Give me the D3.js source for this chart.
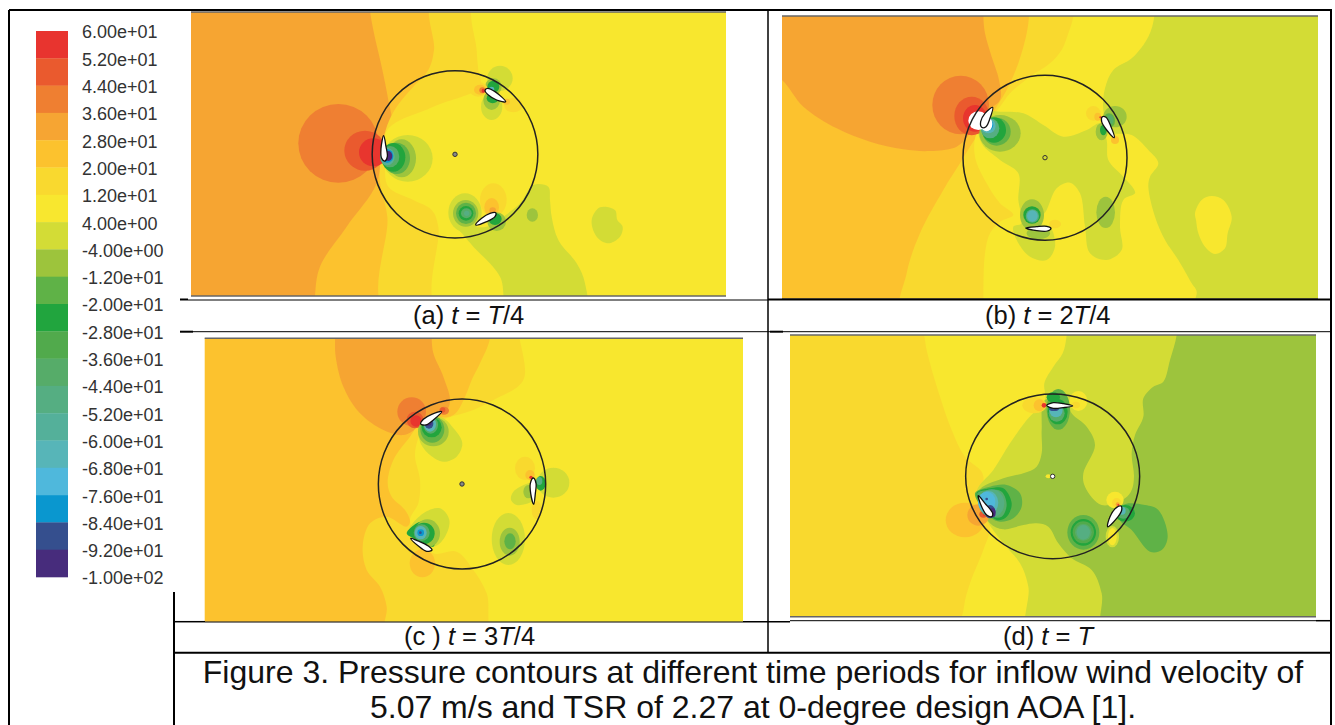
<!DOCTYPE html>
<html>
<head>
<meta charset="utf-8">
<script src="https://d3js.org/d3.v7.min.js"></script>
<style>
html,body{margin:0;padding:0;background:#fff;}
svg{display:block;font-family:"Liberation Sans",Arial,sans-serif;}
.tick{font-size:18px;fill:#333;}
.sub{font-size:25.5px;fill:#111;}
.cap{font-size:32px;fill:#111;text-anchor:middle;}
</style>
</head>
<body>
<script>
// contour bands, top of the colour bar first
var levelLabels=["6.00e+01","5.20e+01","4.40e+01","3.60e+01","2.80e+01","2.00e+01","1.20e+01","4.00e+00","-4.00e+00","-1.20e+01","-2.00e+01","-2.80e+01","-3.60e+01","-4.40e+01","-5.20e+01","-6.00e+01","-6.80e+01","-7.60e+01","-8.40e+01","-9.20e+01","-1.00e+02"];
var levelColors=["#e8342f","#ea5a2e","#ef7f31","#f6a533","#fcc22e","#f9d92f","#f8e72f","#d3dc36","#9dc43c","#5fb247","#21a53e","#51aa4c","#56ac69","#55ae82","#54b09a","#57b5b8","#4fb8dc","#0a97cf","#354f8e","#472c7c"];

// regions: [band, outline in crop grid units], painted in order
var regionsA=[
 [4,[[210,-160],[210,-120],[220,-60],[245,50],[265,150],[275,220],[250,270],[230,400],[140,530],[60,650],[45,738],[45,800],[1400,800],[1400,-160]]],
 [5,[[402,-160],[402,0],[385,60],[340,110],[290,170],[262,225],[245,300],[240,395],[262,500],[262,800],[1400,800],[1400,-160]]],
 [6,[[530,-160],[530,0],[535,60],[540,110],[400,170],[262,240],[255,340],[265,410],[340,450],[395,480],[415,530],[420,800],[1400,800],[1400,-160]]],
 [7,[[470,530],[490,555],[520,590],[600,680],[630,800],[855,800],[855,700],[830,640],[775,570],[755,500],[750,450],[745,410],[700,405],[660,460],[610,500],[560,530]]],
 [7,[[900,472],[945,480],[952,510],[968,530],[960,560],[925,580],[890,560],[875,510]]]
];
var blobsA=[
 [2,115,280,120,118],[1,195,302,62,60],[0,220,307,43,42],
 [7,323,325,75,70],[8,305,325,43,57],[9,290,325,40,47],[10,280,322,36,43],[12,270,320,28,32],[14,262,320,22,26],[17,262,318,18,20],[19,265,318,12,15],
 [7,600,85,38,38],[7,575,170,32,40],[8,580,110,25,25],[8,575,150,25,30],[10,580,110,18,18],[10,578,145,18,15],[15,575,120,8,10],
 [5,535,118,28,22],[4,540,119,18,15],[2,547,121,9,9],[0,550,122,5,6],[5,640,165,28,22],[4,620,155,10,9],
 [5,580,450,40,50],[4,575,472,22,28],[3,578,482,10,10],
 [7,495,488,50,58],[8,497,490,38,40],[9,498,490,30,32],[10,498,490,22,22],[12,499,490,16,15],[13,500,490,8,8],
 [8,590,515,28,28],[10,585,507,20,18],[8,697,495,17,20]
];
var bladesA=[
 [[251,257],[258,290],[262,320],[255,333],[245,325],[243,295]],
 [[617,155],[590,150],[565,135],[555,122],[562,115],[585,125]],
 [[527,525],[545,505],[570,490],[587,488],[585,500],[560,515]]
];

var regionsB=[
 [3,[[-100,140],[36,240],[100,320],[200,385],[300,425],[400,448],[480,453],[560,440],[600,400],[640,340],[690,300],[687,240],[665,170],[645,100],[640,48],[640,-50],[-100,-50]]],
 [5,[[777,-50],[777,48],[770,100],[745,190],[710,270],[680,320],[600,440],[570,490],[520,570],[450,700],[410,820],[400,960],[1800,960],[1800,-50]]],
 [6,[[910,-50],[910,48],[895,100],[875,150],[840,190],[780,230],[720,280],[690,320],[620,400],[615,470],[650,550],[690,610],[730,645],[690,665],[660,700],[645,760],[640,897],[640,960],[1800,960],[1800,-50]]],
 [7,[[1153,-50],[1153,48],[1135,110],[1085,175],[1030,210],[1005,265],[1000,330],[1020,395],[1085,405],[1135,450],[1165,490],[1140,530],[1135,560],[1155,650],[1185,720],[1225,780],[1265,850],[1280,875],[1265,960],[1800,960],[1800,-50]]],
 [6,[[1275,640],[1295,600],[1325,588],[1360,600],[1385,650],[1373,700],[1365,745],[1335,762],[1305,740],[1285,700],[1278,660]]],
 [7,[[690,335],[760,340],[820,375],[880,410],[950,390],[990,370],[1010,420],[1015,480],[1060,530],[1090,565],[1095,580],[1060,600],[1050,680],[1055,750],[1010,780],[960,760],[945,680],[930,580],[900,548],[860,565],[830,630],[805,670],[840,680],[855,740],[830,780],[780,770],[740,720],[730,680],[755,670],[745,600],[745,520],[690,480],[635,430],[625,370],[650,335]]]
];
var blobsB=[
 [2,572,315,85,88],[1,605,348,52,58],[0,615,355,36,40],
 [8,690,400,62,55],[9,680,395,42,42],[10,672,390,36,38],[13,660,385,28,30],[15,655,378,22,22],[17,652,375,18,18],
 [-1,625,362,30,28],[-1,650,372,17,22],
 [8,786,645,36,47],[10,786,645,26,26],[13,787,648,20,20],[15,787,648,16,17],[8,805,700,35,18],[5,855,672,18,13],
 [5,970,340,22,22],[4,983,350,10,12],[0,991,352,3,3],[8,1035,350,35,32],[9,1017,362,18,22],[8,995,395,18,26],[10,1000,390,10,16],[12,1020,360,10,14],[4,1035,420,12,12],
 [8,1007,637,28,47]
];
var bladesB=[
 [[668,322],[645,340],[632,365],[635,382],[648,380],[660,355]],
 [[1033,413],[1010,390],[995,365],[997,350],[1008,352],[1022,378]],
 [[767,684],[800,680],[830,679],[843,685],[832,693],[800,692]]
];

var regionsC=[
 [3,[[495,-50],[495,55],[497,110],[520,200],[570,280],[640,330],[700,345],[745,320],[760,300],[830,270],[840,240],[820,170],[790,100],[785,55],[785,-50]]],
 [5,[[960,-50],[960,55],[930,130],[905,180],[885,230],[850,285],[760,300],[720,350],[670,420],[653,490],[665,530],[705,570],[720,605],[710,620],[650,590],[600,610],[578,680],[590,750],[630,800],[650,860],[650,960],[1800,960],[1800,-50]]],
 [6,[[1060,-50],[1060,180],[980,235],[910,270],[830,295],[760,330],[735,400],[750,480],[745,550],[720,600],[740,650],[790,700],[860,695],[910,750],[950,820],[980,960],[1800,960],[1800,-50]]],
 [7,[[750,310],[810,290],[855,330],[877,370],[860,410],[820,425],[780,405],[750,365]]],
 [7,[[715,640],[760,580],[810,565],[838,600],[825,650],[790,680]]],
 [7,[[1023,540],[1030,515],[1085,490],[1090,540],[1040,555]]],
 [10,[[710,640],[740,610],[760,605],[795,630],[790,680],[760,665],[730,655]]]
];
var blobsC=[
 [4,757,730,38,42],
 [2,725,275,43,43],[1,735,300,25,25],[0,738,303,17,17],[2,822,272,15,12],[1,818,270,8,8],
 [8,790,335,46,44],[9,787,328,36,40],[10,785,322,30,30],[12,782,315,22,26],[15,780,313,18,22],[18,777,311,13,15],[19,775,308,10,9],
 [8,772,640,38,42],[10,762,640,32,32],[12,755,638,24,25],[15,752,638,18,20],[17,752,638,10,10],[18,751,638,4,4],
 [5,1065,445,30,35],[4,1080,465,14,15],[0,1083,472,5,5],[5,1100,570,15,28],
 [7,1150,488,48,45],[8,1075,515,15,20],[10,1112,490,15,22],[13,1108,483,9,12],
 [7,1015,657,50,78],[8,1019,665,30,42],[9,1020,664,17,24]
];
var bladesC=[
 [[815,275],[785,283],[760,298],[752,312],[768,315],[790,300]],
 [[722,655],[745,663],[775,678],[786,690],[770,694],[745,678]],
 [[1091,553],[1082,520],[1081,490],[1090,474],[1098,490],[1096,520]]
];

var regionsD=[
 [6,[[465,-50],[465,60],[480,130],[510,230],[545,330],[585,410],[635,455],[640,485],[625,510],[660,620],[640,690],[600,790],[582,860],[582,960],[1800,960],[1800,-50]]],
 [7,[[893,-50],[890,45],[878,100],[850,140],[823,190],[825,240],[770,300],[720,370],[670,450],[620,515],[650,600],[700,670],[750,730],[775,800],[782,960],[1800,960],[1800,-50]]],
 [8,[[1223,-50],[1220,45],[1200,120],[1180,185],[1150,200],[1120,235],[1120,290],[1095,345],[1085,400],[1092,470],[1085,510],[1065,535],[995,555],[945,500],[940,460],[975,375],[950,320],[905,280],[890,240],[825,240],[815,330],[815,400],[800,440],[760,460],[700,475],[625,515],[660,610],[700,628],[760,615],[800,610],[835,620],[865,670],[905,715],[965,750],[995,820],[1005,960],[1800,960],[1800,-50]]],
 [9,[[1060,555],[1125,555],[1165,570],[1193,650],[1175,690],[1140,695],[1085,630],[1050,600]]],
 [9,[[615,520],[660,500],[710,495],[750,520],[755,560],[730,595],[690,605],[665,595]]],
 [10,[[620,520],[660,505],[700,505],[725,550],[710,590],[680,600]]],
 [12,[[622,520],[660,510],[695,515],[710,555],[695,590],[670,590]]]
];
var blobsD=[
 [4,585,600,58,52],[3,625,585,33,32],[1,640,583,12,10],[0,645,582,6,6],
 [13,665,550,38,42],[15,655,548,30,35],[16,650,545,26,30],[18,660,575,16,20],[19,668,578,9,14],[18,650,537,4,4],
 [9,865,268,35,61],[10,863,275,30,38],[10,850,232,20,15],[12,860,280,24,25],[15,858,270,20,22],[18,852,266,15,7],
 [5,793,256,36,24],[4,808,256,17,18],[0,822,256,7,7],[6,925,243,27,30],[5,918,255,12,10],
 [6,835,469,8,6],
 [9,940,637,48,52],[10,940,637,38,40],[11,940,637,32,33],[12,940,637,25,25],[13,940,637,20,22],
 [6,1035,540,26,25],[5,1040,548,14,14],[3,1043,553,6,6],[0,1045,555,3,3],
 [7,1027,650,20,32],[6,1027,650,13,26],
 [10,1065,580,30,25],[12,1060,578,20,18],[15,1055,572,12,12],[17,1050,568,6,8]
];
var bladesD=[
 [[625,527],[645,550],[668,580],[665,590],[650,585],[635,560]],
 [[908,258],[880,251],[850,248],[830,256],[850,265],[880,263]],
 [[1013,620],[1020,590],[1040,562],[1053,558],[1055,570],[1040,595]]
];

// rotor circle and hub in the same grid: cx, cy, rx, ry
var rotorA=[465,313,248.5,251], rotorB=[825,473,246,247.5], rotorC=[876,492,251,255], rotorD=[848,469,261,247];
// grid extent of each panel, its base band and the box it lands in on the page
var panels=[
 {name:"a",base:3,regions:regionsA,blobs:blobsA,blades:bladesA,rotor:rotorA,gx:[-327,1278],gy:[-114,738],px:[191,726],py:[12,296],hubFill:"#888",edge:[1,1]},
 {name:"b",base:4,regions:regionsB,blobs:blobsB,blades:bladesB,rotor:rotorB,gx:[36,1644],gy:[48,897],px:[782,1318],py:[16,299],hubFill:"none",edge:[1,1]},
 {name:"c",base:4,regions:regionsC,blobs:blobsC,blades:bladesC,rotor:rotorC,gx:[104,1719],gy:[55,905],px:[204.7,743],py:[338.3,621.7],hubFill:"#888",edge:[1,0]},
 {name:"d",base:5,regions:regionsD,blobs:blobsD,blades:bladesD,rotor:rotorD,gx:[60,1638],gy:[45,890],px:[790,1316],py:[335,616.7],hubFill:"#fff",edge:[1,1]}
];

// table rules of the figure: x1,y1,x2,y2,width
var frameLines=[
 [9,10,1332,10,2],[9,10,9,725,2],[1331,10,1331,725,2],[768,10,768,653,1.5],
 [180,299.5,188,299.5,2],[188,300,768,300,1],[768,299.5,1331,299.5,2],
 [180,331.7,193,331.7,2],[193,331.7,770,331.7,1],[770,331.7,783,331.7,2],[783,331.7,1331,331.7,1],
 [174,592,174,725,2],[174,621.7,205,621.7,1.5],[205,622,743,622,1],[743,621.7,790,621.7,1.5],[790,620.7,1316,620.7,1],[1316,620.7,1331,620.7,1.5],
 [174,652.7,1331,652.7,2]
];
var subCaptions=[
 {x:413,y:324,parts:[["(a) ",0],["t",1],[" = ",0],["T",1],["/",0],["4",0]]},
 {x:985,y:324,parts:[["(b) ",0],["t",1],[" = 2",0],["T",1],["/",0],["4",0]]},
 {x:404,y:645,parts:[["(c ) ",0],["t",1],[" = 3",0],["T",1],["/",0],["4",0]]},
 {x:1003,y:645,parts:[["(d) ",0],["t",1],[" = ",0],["T",1]]}
];
var captionLines=["Figure 3. Pressure contours at different time periods for inflow wind velocity of","5.07 m/s and TSR of 2.27 at 0-degree design AOA [1]."];

var svg=d3.select("body").append("svg").attr("width",1335).attr("height",725);
var defs=svg.append("defs");
defs.append("filter").attr("id","soft").append("feGaussianBlur").attr("stdDeviation",0.45);

function bandColor(b){ return b<0 ? "#fff" : levelColors[b]; }

panels.forEach(function(p){
    var x=d3.scaleLinear().domain(p.gx).range(p.px);
    var y=d3.scaleLinear().domain(p.gy).range(p.py);
    var outline=d3.line().x(function(d){return x(d[0]);}).y(function(d){return y(d[1]);}).curve(d3.curveCatmullRomClosed.alpha(0.5));

    defs.append("clipPath").attr("id","clip"+p.name).append("rect")
        .attr("x",p.px[0]).attr("y",p.py[0]).attr("width",p.px[1]-p.px[0]).attr("height",p.py[1]-p.py[0]);

    var g=svg.append("g").attr("clip-path","url(#clip"+p.name+")");
    var fld=g.append("g").attr("filter","url(#soft)");
    fld.append("rect").attr("x",p.px[0]-3).attr("y",p.py[0]-3).attr("width",p.px[1]-p.px[0]+6).attr("height",p.py[1]-p.py[0]+6).attr("fill",bandColor(p.base));
    fld.selectAll("path.region").data(p.regions).enter().append("path").attr("class","region")
        .attr("fill",function(d){return bandColor(d[0]);})
        .attr("d",function(d){return outline(d[1]);});
    fld.selectAll("ellipse.blob").data(p.blobs).enter().append("ellipse").attr("class","blob")
        .attr("fill",function(d){return bandColor(d[0]);})
        .attr("cx",function(d){return x(d[1]);}).attr("cy",function(d){return y(d[2]);})
        .attr("rx",function(d){return x(d[1]+d[3])-x(d[1]);}).attr("ry",function(d){return y(d[2]+d[4])-y(d[2]);});

    g.selectAll("path.blade").data(p.blades).enter().append("path").attr("class","blade")
        .attr("d",outline).attr("fill","#fff").attr("stroke","#111").attr("stroke-width",1.3);

    var r=p.rotor;
    g.append("ellipse").attr("cx",x(r[0])).attr("cy",y(r[1]))
        .attr("rx",x(r[0]+r[2])-x(r[0])).attr("ry",y(r[1]+r[3])-y(r[1]))
        .attr("fill","none").attr("stroke","#222").attr("stroke-width",1.5);
    g.append("circle").attr("cx",x(r[0])).attr("cy",y(r[1])).attr("r",2.2)
        .attr("fill",p.hubFill).attr("stroke","#333").attr("stroke-width",1);

    // grey edge of the exported image, top and bottom
    if(p.edge[0]) svg.append("line").attr("x1",p.px[0]).attr("x2",p.px[1]).attr("y1",p.py[0]).attr("y2",p.py[0]).attr("stroke","#666").attr("stroke-width",1.4);
    if(p.edge[1]) svg.append("line").attr("x1",p.px[0]).attr("x2",p.px[1]).attr("y1",p.py[1]).attr("y2",p.py[1]).attr("stroke","#666").attr("stroke-width",1.4);
});

// colour bar
var bandY=d3.scaleBand().domain(d3.range(levelColors.length)).range([31,577]);
var tickY=d3.scalePoint().domain(levelLabels).range([32,578]);
svg.append("g").selectAll("rect").data(levelColors).enter().append("rect")
    .attr("x",36).attr("width",32)
    .attr("y",function(d,i){return bandY(i);}).attr("height",bandY.bandwidth()+0.3)
    .attr("fill",function(d){return d;});
svg.append("g").selectAll("text").data(levelLabels).enter().append("text").attr("class","tick")
    .attr("x",82).attr("y",function(d){return tickY(d)+6.4;}).text(function(d){return d;});

// table rules and captions
svg.append("g").selectAll("line").data(frameLines).enter().append("line")
    .attr("x1",function(d){return d[0];}).attr("y1",function(d){return d[1];})
    .attr("x2",function(d){return d[2];}).attr("y2",function(d){return d[3];})
    .attr("stroke","#000").attr("stroke-width",function(d){return d[4];});

subCaptions.forEach(function(c){
    var t=svg.append("text").attr("class","sub").attr("x",c.x).attr("y",c.y);
    c.parts.forEach(function(s){
        t.append("tspan").text(s[0]).attr("font-style",s[1]?"italic":"normal");
    });
});
svg.selectAll("text.cap").data(captionLines).enter().append("text").attr("class","cap")
    .attr("x",753).attr("y",function(d,i){return 682.5+i*35.5;}).text(function(d){return d;});
</script>
</body>
</html>
